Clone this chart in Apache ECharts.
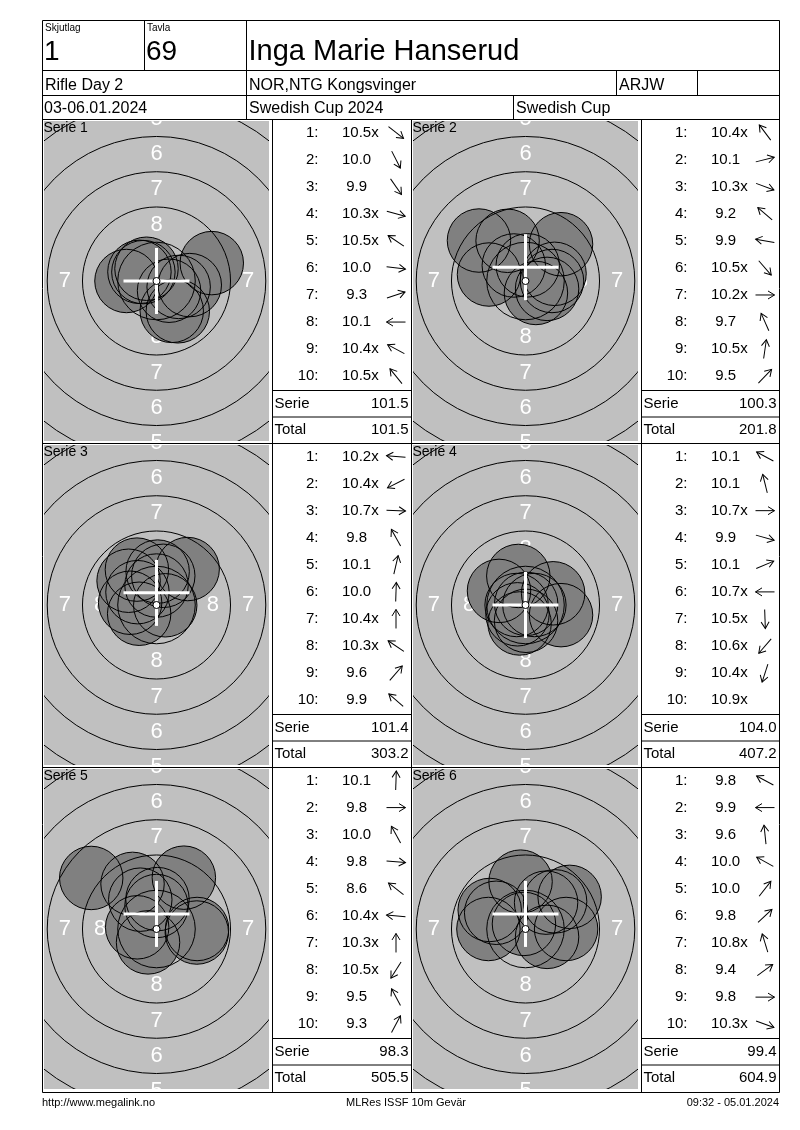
<!DOCTYPE html>
<html><head><meta charset="utf-8">
<script src="https://cdn.jsdelivr.net/npm/echarts@6/dist/echarts.min.js"></script>
<style>html,body{margin:0;padding:0;background:#fff}#c{width:800px;height:1130px}</style>
</head><body><div id="c"></div>
<script>
// ---------------- DATA ----------------
const headerSquadLabel = 'Skjutlag', headerSquad = '1';
const headerTargetLabel = 'Tavla', headerTarget = '69';
const shooterName = 'Inga Marie Hanserud';
const eventName = 'Rifle Day 2', clubName = 'NOR,NTG Kongsvinger', className = 'ARJW';
const dateText = '03-06.01.2024', competitionName = 'Swedish Cup 2024', cupName = 'Swedish Cup';
const footerLeft = 'http://www.megalink.no', footerCenter = 'MLRes ISSF 10m Gevär', footerRight = '09:32 - 05.01.2024';

const serieNames = ['Serie 1','Serie 2','Serie 3','Serie 4','Serie 5','Serie 6'];
const shotScores = [
  [10.5,10.0,9.9,10.3,10.5,10.0,9.3,10.1,10.4,10.5],
  [10.4,10.1,10.3,9.2,9.9,10.5,10.2,9.7,10.5,9.5],
  [10.2,10.4,10.7,9.8,10.1,10.0,10.4,10.3,9.6,9.9],
  [10.1,10.1,10.7,9.9,10.1,10.7,10.5,10.6,10.4,10.9],
  [10.1,9.8,10.0,9.8,8.6,10.4,10.3,10.5,9.5,9.3],
  [9.8,9.9,9.6,10.0,10.0,9.8,10.8,9.4,9.8,10.3]
];
const innerTen = [
  [1,0,0,1,1,0,0,0,1,1],
  [1,0,1,0,0,1,1,0,1,0],
  [1,1,1,0,0,0,1,1,0,0],
  [0,0,1,0,0,1,1,1,1,1],
  [0,0,0,0,0,1,1,1,0,0],
  [0,0,0,0,0,0,1,0,0,1]
];
// shot centres in mm from target centre (x right, y up)
const shotX = [
  [0.89,1.08,1.51,1.57,-0.93,2.36,3.92,-2.13,-1.21,-0.71],
  [-0.83,2.06,1.53,-3.30,-2.59,0.74,1.88,-1.27,0.16,2.52],
  [-1.87,-1.23,0.62,-1.39,0.48,0.08,0.00,-1.35,2.21,-1.98],
  [-1.88,-0.51,0.63,2.52,1.96,-0.63,0.04,-0.57,-0.42,0.05],
  [0.07,2.88,-1.15,2.86,-4.63,-1.37,0.00,-0.60,-1.70,1.94],
  [-2.54,-2.63,-0.35,-2.08,1.46,2.10,-0.11,3.13,2.88,1.53]
];
const shotY = [
  [-0.69,-2.12,-2.15,-0.42,0.63,-0.29,1.27,0.00,0.65,0.87],
  [1.10,0.51,-0.56,2.87,0.46,-0.85,0.00,2.85,1.11,2.61],
  [0.16,-0.62,-0.02,2.51,2.07,2.37,1.38,0.91,2.55,1.72],
  [1.00,2.06,0.00,-0.72,0.83,0.00,-1.12,-0.66,-1.31,0.08],
  [2.12,0.00,2.08,-0.25,3.62,0.12,1.63,-0.95,3.20,3.64],
  [1.35,0.00,3.36,1.15,1.87,1.96,0.36,2.28,0.00,-0.56]
];
const serieTotals = [101.5,100.3,101.4,104.0,98.3,99.4];
const runningTotals = [101.5,201.8,303.2,407.2,505.5,604.9];
const groupX = [0,0,0,0,0,0];
const groupY = [0,0.98,0.86,0,1.07,1.07];
const ringRadii = [2.75,5.25,7.75,10.25,12.75];
const zoneLabels = ['8','7','6','5'];
const zoneLabelRadii = [4.0,6.5,9.0,11.5];
const tenDotRadius = 0.25;
const pelletRadius = 2.25;

// ---------------- LAYOUT ----------------
const FONT = '"Liberation Sans", Arial, Helvetica, sans-serif';
const PX_PER_MM = 14.1;
const TW = 225, TH = 320;
const HX = TW / 2 / PX_PER_MM, HY = TH / 2 / PX_PER_MM;
const rowTops = [119.5, 443.5, 767.5];
const bottomY = 1092.5;
const LX = 42.5, RX = 779.5;
const colLeft = [42.5, 411.5];
const tableLeft = [272.5, 641.5];
const tableRight = [411.5, 779.5];

const grids = [], xAxes = [], yAxes = [], series = [], graphics = [];

function line(x1, y1, x2, y2) {
  graphics.push({type: 'line', silent: true, z: 100,
    shape: {x1, y1, x2, y2}, style: {stroke: '#000', lineWidth: 1}});
}
function text(str, x, y, size, align, color) {
  graphics.push({type: 'text', silent: true, z: 101, x, y,
    style: {text: str, font: size + 'px ' + FONT, fill: color || '#000',
      align: align || 'left', verticalAlign: 'middle',
      textAlign: align || 'left', textVerticalAlign: 'middle'}});
}
function arrow(x, y, ang) {
  graphics.push({type: 'group', silent: true, z: 101, x, y, rotation: ang, children: [
    {type: 'polyline', shape: {points: [[-9.5, 0], [9.5, 0]]}, style: {stroke: '#000', lineWidth: 1, fill: 'none'}},
    {type: 'polyline', shape: {points: [[3, -4], [9.5, 0], [3, 4]]}, style: {stroke: '#000', lineWidth: 1, fill: 'none'}}
  ]});
}

for (let p = 0; p < 6; p++) {
  const r = Math.floor(p / 2), c = p % 2;
  const top = rowTops[r];
  grids.push({left: colLeft[c] + 1.5, top: top + 1.5, width: TW, height: TH,
    show: true, backgroundColor: '#C0C0C0', borderWidth: 0, containLabel: false});
  xAxes.push({type: 'value', gridIndex: p, min: -HX, max: HX, show: false});
  yAxes.push({type: 'value', gridIndex: p, min: -HY, max: HY, show: false});

  const labelData = [];
  zoneLabelRadii.forEach((rr, k) => {
    labelData.push([0, rr, k], [0, -rr, k], [-rr, 0, k], [rr, 0, k]);
  });
  const shots = shotX[p].map((x, i) => [x, shotY[p][i]]);
  const base = {type: 'custom', xAxisIndex: p, yAxisIndex: p, clip: true, silent: true, animation: false};

  series.push(Object.assign({}, base, {z: 2, data: labelData,
    renderItem: (prm, api) => {
      const pt = api.coord([api.value(0), api.value(1)]);
      return {type: 'text', x: pt[0], y: pt[1],
        style: {text: zoneLabels[api.value(2)], font: '22px ' + FONT, fill: '#FFFFFF',
          align: 'center', verticalAlign: 'middle', textAlign: 'center', textVerticalAlign: 'middle'}};
    }}));
  series.push(Object.assign({}, base, {z: 3, data: shots,
    renderItem: (prm, api) => {
      const pt = api.coord([api.value(0), api.value(1)]);
      const rad = api.size([pelletRadius, 0])[0];
      return {type: 'circle', shape: {cx: pt[0], cy: pt[1], r: rad}, style: {fill: '#808080', stroke: null}};
    }}));
  series.push(Object.assign({}, base, {z: 4, data: ringRadii.map(v => [0, 0, v]),
    renderItem: (prm, api) => {
      const pt = api.coord([0, 0]);
      const rad = api.size([api.value(2), 0])[0];
      return {type: 'circle', shape: {cx: pt[0], cy: pt[1], r: rad}, style: {fill: 'none', stroke: '#000', lineWidth: 1}};
    }}));
  series.push(Object.assign({}, base, {z: 5, data: shots,
    renderItem: (prm, api) => {
      const pt = api.coord([api.value(0), api.value(1)]);
      const rad = api.size([pelletRadius, 0])[0];
      return {type: 'circle', shape: {cx: pt[0], cy: pt[1], r: rad}, style: {fill: 'none', stroke: '#000', lineWidth: 1}};
    }}));
  series.push(Object.assign({}, base, {z: 6, data: [[groupX[p], groupY[p]]],
    renderItem: (prm, api) => {
      const pt = api.coord([api.value(0), api.value(1)]);
      return {type: 'group', children: [
        {type: 'line', shape: {x1: pt[0] - 33, y1: pt[1], x2: pt[0] + 33, y2: pt[1]}, style: {stroke: '#FFFFFF', lineWidth: 3}},
        {type: 'line', shape: {x1: pt[0], y1: pt[1] - 33, x2: pt[0], y2: pt[1] + 33}, style: {stroke: '#FFFFFF', lineWidth: 3}}
      ]};
    }}));
  series.push(Object.assign({}, base, {z: 7, data: [[0, 0, tenDotRadius]],
    renderItem: (prm, api) => {
      const pt = api.coord([0, 0]);
      const rad = api.size([api.value(2), 0])[0];
      return {type: 'circle', shape: {cx: pt[0], cy: pt[1], r: rad}, style: {fill: '#FFFFFF', stroke: '#000', lineWidth: 1}};
    }}));

  // serie label
  text(serieNames[p], colLeft[c] + 1, top + 9, 14);

  // table
  const tl = tableLeft[c], tr = tableRight[c];
  for (let i = 0; i < 10; i++) {
    const y = top + 13 + i * 27.08;
    const s = shotScores[p][i];
    text((i + 1) + ':', tl + 46, y, 15, 'right');
    text(s.toFixed(1) + (innerTen[p][i] ? 'x' : ''), tl + 69.5 + (s < 10 ? 4.2 : 0), y, 15, 'left');
    if (s < 10.9) arrow(tl + 123.5, y, Math.atan2(shotY[p][i], shotX[p][i]));
  }
  line(tl, top + 271, tr, top + 271);
  line(tl, top + 297.5, tr, top + 297.5);
  text('Serie', tl + 2, top + 284, 15);
  text(serieTotals[p].toFixed(1), tr - 3, top + 284, 15, 'right');
  text('Total', tl + 2, top + 310.5, 15);
  text(runningTotals[p].toFixed(1), tr - 3, top + 310.5, 15, 'right');
}

// frame lines
line(LX, 20.5, RX, 20.5);
line(LX, 70.5, RX, 70.5);
line(LX, 95.5, RX, 95.5);
rowTops.forEach(t => line(LX, t, RX, t));
line(LX, bottomY, RX, bottomY);
line(LX, 20.5, LX, bottomY);
line(RX, 20.5, RX, bottomY);
line(144.5, 20.5, 144.5, 70.5);
line(246.5, 20.5, 246.5, 119.5);
line(616.5, 70.5, 616.5, 95.5);
line(697.5, 70.5, 697.5, 95.5);
line(513.5, 95.5, 513.5, 119.5);
[272.5, 411.5, 641.5].forEach(x => line(x, 119.5, x, bottomY));

// header texts
text(headerSquadLabel, 45, 28, 10);
text(headerTargetLabel, 147, 28, 10);
text(headerSquad, 44, 52, 28);
text(headerTarget, 146, 52, 28);
text(shooterName, 248.5, 52, 29);
text(eventName, 45, 86, 16);
text(clubName, 249, 86, 16);
text(className, 619, 86, 16);
text(dateText, 44, 109, 16);
text(competitionName, 249, 109, 16);
text(cupName, 516, 109, 16);
// footer
text(footerLeft, 42, 1103, 11);
text(footerCenter, 406, 1103, 11, 'center');
text(footerRight, 779, 1103, 11, 'right');

const chart = echarts.init(document.getElementById('c'), null, {renderer: 'canvas'});
chart.setOption({animation: false, backgroundColor: '#FFFFFF', grid: grids, xAxis: xAxes, yAxis: yAxes, series, graphic: {elements: graphics}});
</script></body></html>
